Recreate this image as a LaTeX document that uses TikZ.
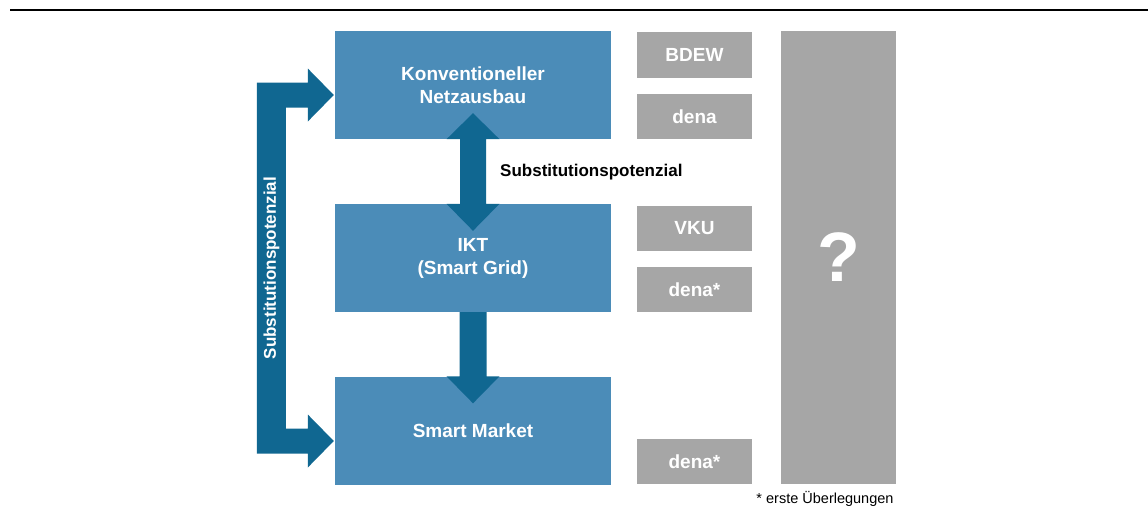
\documentclass[tikz,border=0pt]{standalone}
\usepackage{fontspec}
\setmainfont{Liberation Sans}
\usetikzlibrary{calc}
\definecolor{boxblue}{RGB}{75,140,184}
\definecolor{arrblue}{RGB}{16,103,145}
\definecolor{boxgray}{RGB}{166,166,166}
\begin{document}
\begin{tikzpicture}[x=1pt,y=-1pt,
  bluebox/.style={fill=boxblue, minimum width=276pt, minimum height=108pt, inner sep=0pt, text=white, font=\bfseries\fontsize{19}{23}\selectfont, align=center},
  graybox/.style={fill=boxgray, minimum width=115pt, minimum height=45pt, inner sep=0pt, text=white, font=\bfseries\fontsize{19}{23}\selectfont},
  arr/.style={fill=arrblue},
  lbl/.style={inner sep=0pt, font=\bfseries\fontsize{17}{20}\selectfont}]
\useasboundingbox (0,0) rectangle (1148,509);
\coordinate (l1) at (10,10);
\coordinate (l2) at (1148,10);
\draw[line width=2.5pt] (l1) -- (l2);

\node[bluebox] (k) at (473,85) {Konventioneller\\Netzausbau};
\node[bluebox] (i) at (473,258) {IKT\\(Smart Grid)};
\node[bluebox] (m) at (473,430.5) {Smart Market};

% double arrow between k and i
\fill[arr] ($(k.south)+(0,-26)$) -- ($(k.south)+(26.5,0)$) -- ($(k.south)+(13,0)$)
  -- ($(i.north)+(13,0)$) -- ($(i.north)+(26.5,0)$) -- ($(i.north)+(0,27)$)
  -- ($(i.north)+(-26.5,0)$) -- ($(i.north)+(-13,0)$) -- ($(k.south)+(-13,0)$)
  -- ($(k.south)+(-26.5,0)$) -- cycle;

% down arrow between i and m
\fill[arr] ($(i.south)+(-13.5,0)$) -- ($(i.south)+(13.5,0)$) -- ($(m.north)+(13.5,0)$)
  -- ($(m.north)+(26.5,0)$) -- ($(m.north)+(0,27)$) -- ($(m.north)+(-26.5,0)$)
  -- ($(m.north)+(-13.5,0)$) -- cycle;

% bracket arrow on the left
\coordinate (t1) at ($(k.west)+(-1,10)$);
\coordinate (t2) at ($(m.west)+(-1,10.5)$);
\fill[arr] ($(t1)+(-77,-12.5)$) -- ($(t1)+(-26,-12.5)$) -- ($(t1)+(-26,-26.5)$) -- (t1)
  -- ($(t1)+(-26,26.5)$) -- ($(t1)+(-26,12.5)$) -- ($(t1)+(-48,12.5)$)
  -- ($(t2)+(-48,-12.5)$) -- ($(t2)+(-26,-12.5)$) -- ($(t2)+(-26,-26.5)$) -- (t2)
  -- ($(t2)+(-26,26.5)$) -- ($(t2)+(-26,12.5)$) -- ($(t2)+(-77,12.5)$) -- cycle;

\node[lbl, text=white, rotate=90] (sv) at (271.5,268) {Substitutionspotenzial};
\node[lbl, anchor=west] (sh) at (500,172) {Substitutionspotenzial};

\node[graybox, minimum height=46pt] (g1) at (694.5,55) {BDEW};
\node[graybox] (g2) at (694.5,116.5) {dena};
\node[graybox] (g3) at (694.5,228.5) {VKU};
\node[graybox] (g4) at (694.5,289.5) {dena*};
\node[graybox] (g5) at (694.5,461.5) {dena*};

\node[fill=boxgray, minimum width=115pt, minimum height=453pt, inner sep=0pt, text=white, font=\bfseries\fontsize{70}{70}\selectfont] (q) at (838.5,257.5) {?};

\node[inner sep=0pt, anchor=base, font=\fontsize{14.5}{16}\selectfont] (fn) at (825,503) {* erste Überlegungen};
\end{tikzpicture}
\end{document}
